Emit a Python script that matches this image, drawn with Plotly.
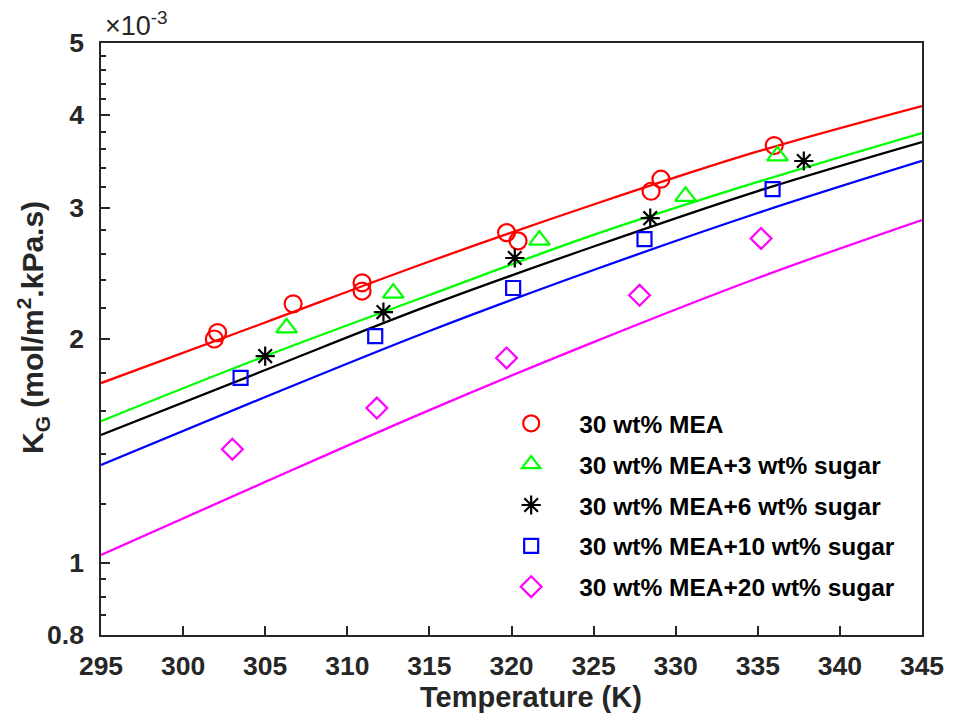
import plotly.graph_objects as go

# Measured overall mass-transfer coefficients K_G (mol/m2.kPa.s) vs temperature (K)
T_mea = [301.9, 302.1, 306.7, 310.9, 310.9, 319.7, 320.4, 328.5, 329.1, 336.0]
K_mea = [2.00e-3, 2.04e-3, 2.23e-3, 2.38e-3, 2.32e-3, 2.78e-3, 2.71e-3, 3.16e-3, 3.28e-3, 3.64e-3]

T_s3 = [306.3, 312.8, 321.7, 330.6, 336.2]
K_s3 = [2.07e-3, 2.305e-3, 2.716e-3, 3.11e-3, 3.525e-3]

T_s6 = [305.0, 312.2, 320.2, 328.45, 337.8]
K_s6 = [1.897e-3, 2.174e-3, 2.57e-3, 2.907e-3, 3.47e-3]

T_s10 = [303.5, 311.7, 320.1, 328.1, 335.9]
K_s10 = [1.773e-3, 2.018e-3, 2.342e-3, 2.725e-3, 3.18e-3]

T_s20 = [303.0, 311.8, 319.7, 327.8, 335.2]
K_s20 = [1.422e-3, 1.615e-3, 1.886e-3, 2.29e-3, 2.73e-3]

# Model curves
T_fit = [295.0, 305.0, 315.0, 325.0, 335.0, 345.0]
fit_mea = [1.745e-3, 2.105e-3, 2.542e-3, 3.033e-3, 3.574e-3, 4.114e-3]
fit_s3 = [1.551e-3, 1.897e-3, 2.292e-3, 2.760e-3, 3.252e-3, 3.784e-3]
fit_s6 = [1.486e-3, 1.817e-3, 2.219e-3, 2.663e-3, 3.162e-3, 3.680e-3]
fit_s10 = [1.354e-3, 1.671e-3, 2.050e-3, 2.476e-3, 2.954e-3, 3.471e-3]
fit_s20 = [1.025e-3, 1.285e-3, 1.605e-3, 1.981e-3, 2.416e-3, 2.891e-3]

labels = ["30 wt% MEA", "30 wt% MEA+3 wt% sugar", "30 wt% MEA+6 wt% sugar",
          "30 wt% MEA+10 wt% sugar", "30 wt% MEA+20 wt% sugar"]
colors = ["#FF0000", "#00FF00", "#000000", "#0000FF", "#FF00FF"]
symbols = ["circle-open", "triangle-up-open", "asterisk-open", "square-open", "diamond-open"]
sizes = [17, 18, 16, 14, 16]

y_major = [0.8e-3, 1e-3, 2e-3, 3e-3, 4e-3, 5e-3]
y_major_text = ["0.8", "1", "2", "3", "4", "5"]
y_minor = [0.85e-3, 0.9e-3, 0.95e-3, 1.2e-3, 1.4e-3, 1.6e-3, 1.8e-3,
           2.2e-3, 2.4e-3, 2.6e-3, 2.8e-3, 3.2e-3, 3.4e-3, 3.6e-3, 3.8e-3,
           4.2e-3, 4.4e-3, 4.6e-3, 4.8e-3]
x_ticks = [295, 300, 305, 310, 315, 320, 325, 330, 335, 340, 345]

meas = [(T_mea, K_mea), (T_s3, K_s3), (T_s6, K_s6), (T_s10, K_s10), (T_s20, K_s20)]
fits = [fit_mea, fit_s3, fit_s6, fit_s10, fit_s20]

fig = go.Figure()
for fy, c in zip(fits, colors):
    fig.add_trace(go.Scatter(x=T_fit, y=fy, mode="lines",
                             line=dict(color=c, width=2.3, shape="spline", smoothing=1.0),
                             showlegend=False, hoverinfo="skip"))
for i, ((tx, ky), lab, c, s, sz) in enumerate(zip(meas, labels, colors, symbols, sizes)):
    fig.add_trace(go.Scatter(x=tx, y=ky, mode="markers", name=lab, legendgroup=f"g{i}",
                             marker=dict(symbol=s, size=sz, color=c,
                                         line=dict(color=c, width=2.2))))

axis_col = "#262626"
font_family = "Liberation Sans, Arial, sans-serif"
tick_font = dict(family=font_family, size=26.5, color=axis_col, weight="bold")

fig.update_layout(
    width=956, height=723,
    margin=dict(l=101, r=27, t=43, b=88),
    paper_bgcolor="white", plot_bgcolor="white",
    font=dict(family=font_family, color="black"),
    showlegend=True,
    legend=dict(x=0.4655, y=0.3955, xanchor="left", yanchor="top",
                bgcolor="rgba(0,0,0,0)", borderwidth=0,
                font=dict(size=24.5, color="black", weight="bold"),
                traceorder="grouped", tracegroupgap=6, itemwidth=86),
    xaxis=dict(range=[295, 345], tickvals=x_ticks, ticks="inside", ticklen=9, tickwidth=1.5,
               tickcolor=axis_col, showline=True, linecolor=axis_col, linewidth=1.5,
               mirror=True, showgrid=False, zeroline=False, tickfont=tick_font,
               ticklabelstandoff=6),
    yaxis=dict(type="log", range=[-3.09691, -2.30103], tickvals=y_major, ticktext=y_major_text,
               ticks="inside", ticklen=9, tickwidth=1.5, tickcolor=axis_col,
               showline=True, linecolor=axis_col, linewidth=1.5, mirror=True,
               showgrid=False, zeroline=False, tickfont=tick_font, ticklabelstandoff=10,
               minor=dict(tickvals=y_minor, ticks="inside", ticklen=5, tickwidth=1.5,
                          tickcolor=axis_col, showgrid=False)),
)

fig.add_annotation(text="Temperature (K)", xref="paper", yref="paper", x=0.5232, y=-0.105,
                   xanchor="center", yanchor="middle", showarrow=False,
                   font=dict(size=29, color=axis_col, weight="bold"))
fig.add_annotation(text="K<sub>G</sub> (mol/m<sup>2</sup>.kPa.s)", xref="paper", yref="paper",
                   x=-0.083, y=0.52, xanchor="center", yanchor="middle", textangle=-90,
                   showarrow=False, font=dict(size=30, color=axis_col, weight="bold"))
fig.add_annotation(text="\u00d710<sup>-3</sup>", xref="paper", yref="paper", x=0.003, y=1.0,
                   xanchor="left", yanchor="bottom", showarrow=False,
                   font=dict(size=27, color=axis_col))

fig.write_html("out.html")
